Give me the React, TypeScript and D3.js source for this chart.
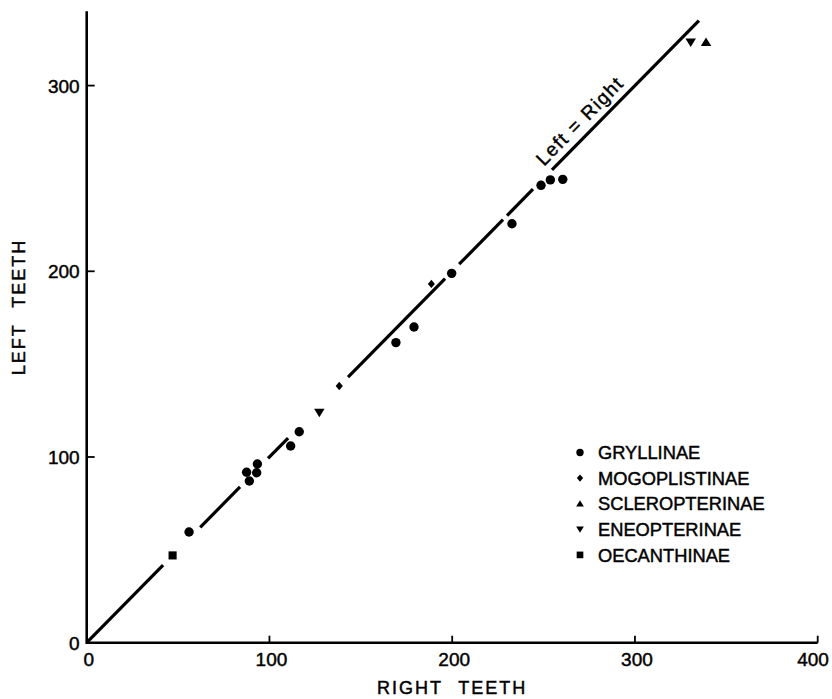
import React from "react";
import * as d3 from "d3";

// ---- data ----
const xTicks = [0, 100, 200, 300, 400];
const yTicks = [0, 100, 200, 300];

const gryllinaeRight = [56, 87.5, 89, 93, 93.4, 111.6, 116.3, 169.2, 179.1, 199.7, 232.7, 248.6, 253.7, 260.5];
const gryllinaeLeft = [59.6, 91.8, 87.1, 91.5, 96.2, 105.9, 113.6, 161.6, 170, 198.9, 225.6, 246.3, 249.2, 249.5];
const mogoplistinaeRight = [138.2, 188.6];
const mogoplistinaeLeft = [138.2, 193.2];
const scleropterinaeRight = [338.9];
const scleropterinaeLeft = [323.3];
const eneopterinaeRight = [127.3, 330.5];
const eneopterinaeLeft = [124, 323.3];
const oecanthinaeRight = [47];
const oecanthinaeLeft = [47];

const legendNames = ["GRYLLINAE", "MOGOPLISTINAE", "SCLEROPTERINAE", "ENEOPTERINAE", "OECANTHINAE"];
const legendShapes = ["circle", "diamond", "up", "down", "square"];

// identity line (Left = Right) drawn from 0 to lineEnd with breaks near points
const lineEnd = 335;
const lineGaps: [number, number][] = [
  [41.8, 62.1],
  [83.9, 99.2],
  [110.2, 143],
  [196.1, 203.8],
  [227.8, 230],
  [244.2, 254.6],
];
const lineLabel = "Left = Right";
const lineLabelAt = 275.5;

// ---- layout ----
const W = 832;
const H = 699;
const x = d3.scaleLinear().domain([0, 400]).range([86.7, 817.7]);
const y = d3.scaleLinear().domain([0, 340]).range([642.7, 11.3]);
const FONT = "'Liberation Sans', Arial, Helvetica, sans-serif";
const TS = { stroke: "#000", strokeWidth: 0.45 };

function markerPath(shape: string, s: number): string {
  switch (shape) {
    case "circle": {
      const p = d3.path();
      p.arc(0, 0, s, 0, Math.PI * 2);
      return p.toString();
    }
    case "diamond":
      return `M0,${-s}L${s * 0.85},0L0,${s}L${-s * 0.85},0Z`;
    case "up":
      return `M0,${-s * 0.95}L${s * 1.05},${s * 0.75}L${-s * 1.05},${s * 0.75}Z`;
    case "down":
      return `M0,${s * 0.95}L${s * 1.05},${-s * 0.75}L${-s * 1.05},${-s * 0.75}Z`;
    case "square":
      return `M${-s * 0.9},${-s * 0.9}H${s * 0.9}V${s * 0.9}H${-s * 0.9}Z`;
  }
  return "";
}

export default function App() {
  const series = [
    { shape: "circle", xs: gryllinaeRight, ys: gryllinaeLeft, s: 4.7 },
    { shape: "diamond", xs: mogoplistinaeRight, ys: mogoplistinaeLeft, s: 4.2 },
    { shape: "up", xs: scleropterinaeRight, ys: scleropterinaeLeft, s: 5 },
    { shape: "down", xs: eneopterinaeRight, ys: eneopterinaeLeft, s: 5 },
    { shape: "square", xs: oecanthinaeRight, ys: oecanthinaeLeft, s: 4.5 },
  ];

  // build identity line segments
  const segs: [number, number][] = [];
  let start = 0;
  for (const [a, b] of lineGaps) {
    segs.push([start, a]);
    start = b;
  }
  segs.push([start, lineEnd]);

  const angle = (Math.atan2(y(1) - y(0), x(1) - x(0)) * 180) / Math.PI;

  const legendX = 580;
  const legendY0 = 452.5;
  const legendDy = 25.6;

  return (
    <svg
      width={W}
      height={H}
      viewBox={`0 0 ${W} ${H}`}
      style={{ position: "absolute", left: 0, top: 0, background: "#fff" }}
      fontFamily={FONT}
    >
      <rect width={W} height={H} fill="#fff" />
      {/* axes */}
      <line x1={x(0)} x2={x(400)} y1={y(0)} y2={y(0)} stroke="#000" strokeWidth={2.6} />
      <line x1={x(0)} x2={x(0)} y1={y(0) + 1.3} y2={y(340)} stroke="#000" strokeWidth={2.6} />
      {xTicks.map((t) => (
        <g key={"xt" + t}>
          {t > 0 && (
            <line x1={x(t)} x2={x(t)} y1={y(0)} y2={y(0) - 7} stroke="#000" strokeWidth={1.8} />
          )}
          <text
            x={Math.min(x(t) + 2, W - 19)}
            y={y(0) + 23}
            fontSize={19}
            textAnchor="middle"
            fill="#000"
            {...TS}
          >
            {t}
          </text>
        </g>
      ))}
      {yTicks.map((t) => (
        <g key={"yt" + t}>
          {t > 0 && (
            <line x1={x(0)} x2={x(0) + 8} y1={y(t)} y2={y(t)} stroke="#000" strokeWidth={1.8} />
          )}
          <text x={x(0) - 7} y={y(t) + 7} fontSize={19} textAnchor="end" fill="#000" {...TS}>
            {t}
          </text>
        </g>
      ))}
      {/* axis titles */}
      <text
        x={x(200)}
        y={694}
        fontSize={18}
        textAnchor="middle"
        letterSpacing={2}
        wordSpacing={9}
        fill="#000"
        {...TS}
      >
        RIGHT TEETH
      </text>
      <text
        transform={`translate(25,307) rotate(-90)`}
        fontSize={18}
        textAnchor="middle"
        letterSpacing={2}
        wordSpacing={9}
        fill="#000"
        {...TS}
      >
        LEFT TEETH
      </text>

      {/* identity line */}
      {segs.map(([a, b], i) => (
        <line
          key={"seg" + i}
          x1={x(a)}
          y1={y(a)}
          x2={x(b)}
          y2={y(b)}
          stroke="#000"
          strokeWidth={3.2}
        />
      ))}
      <text
        transform={`translate(${x(lineLabelAt)},${y(lineLabelAt)}) rotate(${angle})`}
        y={-8}
        fontSize={19}
        textAnchor="middle"
        letterSpacing={1.5}
        fill="#000"
        {...TS}
      >
        {lineLabel}
      </text>

      {/* points */}
      {series.map((sr) =>
        sr.xs.map((xv, i) => (
          <path
            key={sr.shape + i}
            d={markerPath(sr.shape, sr.s)}
            transform={`translate(${x(xv)},${y(sr.ys[i])})`}
            fill="#000"
          />
        ))
      )}

      {/* legend */}
      {legendNames.map((name, i) => (
        <g key={name} transform={`translate(0,${legendY0 + i * legendDy})`}>
          <path d={markerPath(legendShapes[i], 3.7)} transform={`translate(${legendX},0)`} fill="#000" />
          <text x={598} y={6.7} fontSize={18.3} fill="#000" {...TS}>
            {name}
          </text>
        </g>
      ))}
    </svg>
  );
}
